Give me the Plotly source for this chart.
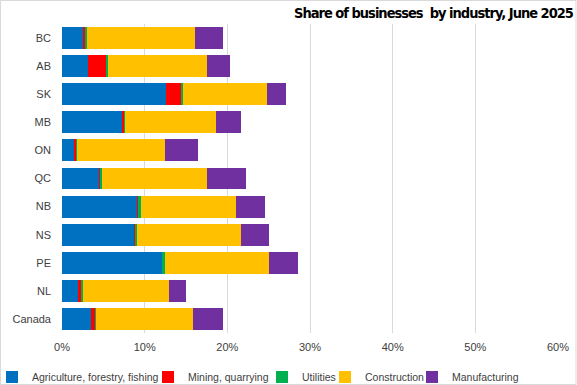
import plotly.graph_objects as go

regions = ["BC", "AB", "SK", "MB", "ON", "QC", "NB", "NS", "PE", "NL", "Canada"]
agriculture = [2.5, 3.2, 12.6, 7.2, 1.45, 4.5, 9.05, 8.8, 12.1, 1.9, 3.5]
mining = [0.4, 2.2, 1.9, 0.3, 0.3, 0.2, 0.25, 0.15, 0.05, 0.5, 0.5]
utilities = [0.15, 0.15, 0.15, 0.15, 0.1, 0.1, 0.2, 0.15, 0.25, 0.2, 0.1]
construction = [13.0, 12.0, 10.1, 10.95, 10.6, 12.7, 11.6, 12.6, 12.6, 10.4, 11.7]
manufacturing = [3.4, 2.8, 2.4, 3.1, 4.0, 4.8, 3.5, 3.3, 3.6, 2.0, 3.7]
x_ticks = [0, 10, 20, 30, 40, 50, 60]
x_tick_labels = ["0%", "10%", "20%", "30%", "40%", "50%", "60%"]

series = [
    ("Agriculture, forestry, fishing", agriculture, "#0070C0"),
    ("Mining, quarrying", mining, "#FF0000"),
    ("Utilities", utilities, "#00B050"),
    ("Construction", construction, "#FFC000"),
    ("Manufacturing", manufacturing, "#7030A0"),
]
legend_names = ["legend", "legend2", "legend3", "legend4", "legend5"]
legend_text_x = [32, 188, 302, 365, 452]

W, H = 577, 385
PL, PW = 62, 496
font_family = "Liberation Sans, Arial, sans-serif"

fig = go.Figure()
for (name, vals, color), lg in zip(series, legend_names):
    fig.add_trace(go.Bar(
        y=regions, x=vals, name=name, orientation="h",
        marker=dict(color=color, line=dict(width=0)),
        legend=lg,
    ))

legend_layouts = {}
for lg, tx in zip(legend_names, legend_text_x):
    legend_layouts[lg] = dict(
        orientation="h",
        x=(tx - 40 - PL) / PW, xanchor="left", xref="paper",
        y=(H - 377) / H, yanchor="middle", yref="container",
        font=dict(family=font_family, size=10.5, color="#404040"),
        itemwidth=30,
        bgcolor="rgba(0,0,0,0)",
        borderwidth=0,
    )

fig.update_layout(
    barmode="stack",
    bargap=0.22,
    width=W, height=H,
    margin=dict(l=PL, r=W - PL - PW, t=24, b=52, autoexpand=False),
    paper_bgcolor="white",
    plot_bgcolor="white",
    font=dict(family=font_family, size=11, color="#404040"),
    title=dict(
        text="<b><span style='font-stretch:condensed;letter-spacing:-1px'>Share of businesses  by industry, June 2025</span></b>",
        x=294 / W, xanchor="left", xref="container",
        y=(H - 12.5) / H, yanchor="middle", yref="container",
        font=dict(family="DejaVu Sans Condensed, DejaVu Sans, sans-serif", size=14.5, color="black"),
    ),
    xaxis=dict(
        range=[0, 60],
        tickvals=x_ticks,
        ticktext=x_tick_labels,
        showgrid=True, gridcolor="#D9D9D9", gridwidth=1,
        zeroline=False, showline=False,
        ticks="", ticklabelstandoff=6,
        tickfont=dict(size=11, color="#404040"),
        fixedrange=True,
    ),
    yaxis=dict(
        categoryorder="array", categoryarray=regions,
        autorange="reversed",
        showgrid=False, zeroline=False, showline=False,
        ticks="", ticklabelstandoff=10,
        tickfont=dict(size=11, color="#404040"),
        fixedrange=True,
    ),
    showlegend=True,
    shapes=[dict(
        type="rect", xref="paper", yref="paper",
        x0=(0.5 - PL) / PW, x1=(576 - PL) / PW,
        y0=(333 - 384.5) / 309,
        y1=(333 - 0.5) / 309,
        line=dict(color="#D9D9D9", width=1),
        fillcolor="rgba(0,0,0,0)",
        layer="below",
    )],
    **legend_layouts,
)

fig.write_html(
    "out.html",
    config={"displayModeBar": False},
    post_script="document.body.style.margin='0';document.body.style.overflow='hidden';",
)
